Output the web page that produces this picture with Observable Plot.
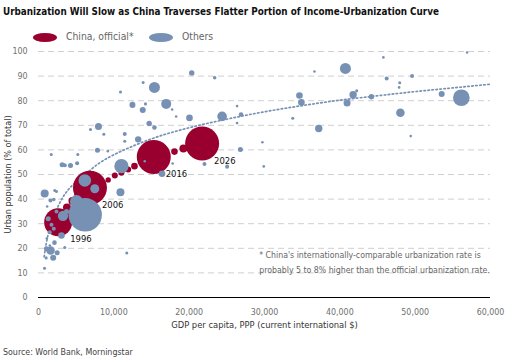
<!DOCTYPE html>
<html>
<head>
<meta charset="utf-8">
<script src="https://cdn.jsdelivr.net/npm/d3@7"></script>
<script src="https://cdn.jsdelivr.net/npm/@observablehq/plot@0.6"></script>
<style>
  html, body { margin: 0; padding: 0; background: #fff; }
  body { width: 513px; height: 361px; position: relative; overflow: hidden;
         font-family: "DejaVu Sans Condensed", "Liberation Sans", sans-serif; }
  .abs { position: absolute; white-space: nowrap; }
  #title { left: 3px; top: 6.8px; font-size: 9.8px; line-height: 9.8px; font-weight: bold; color: #111; }
  .lg-sw { position: absolute; width: 24px; height: 9px; border-radius: 50%; }
  .lg-tx { font-size: 10.3px; line-height: 10.3px; color: #666; }
  #source { left: 3px; top: 347.5px; font-size: 8.8px; line-height: 8.8px; color: #444; }
  #chart { position: absolute; left: 0; top: 45px; }
</style>
</head>
<body>
<div id="title" class="abs">Urbanization Will Slow as China Traverses Flatter Portion of Income-Urbanization Curve</div>
<div class="lg-sw" style="left:33px; top:32.5px; background:#99002f;"></div>
<div class="abs lg-tx" style="left:66px; top:31.3px;">China, official*</div>
<div class="lg-sw" style="left:149px; top:32.5px; background:#7791b5;"></div>
<div class="abs lg-tx" style="left:182px; top:31.3px;">Others</div>
<div id="chart"></div>
<div id="source" class="abs">Source: World Bank, Morningstar</div>
<script>
// ---- data ----
const xTicks = [0, 10000, 20000, 30000, 40000, 50000, 60000];
const yTicks = [0, 10, 20, 30, 40, 50, 60, 70, 80, 90, 100];

// China, official (GDP per capita PPP, urban %, population in millions, label)
const chinaGdp   = [2610, 3780, 4510, 5310, 6830, 9250, 10130, 11010, 11900, 12740, 15300, 18050, 19240, 21720];
const chinaUrban = [30.6, 36.6, 39.2, 41.5, 44.6, 47.8, 49.6, 50.7, 52.0, 53.4, 57.1, 59.3, 60.6, 62.6];
const chinaPop   = [930, 76, 76, 76, 1368, 34, 43, 43, 43, 52, 1368, 52, 76, 1368];
const chinaLabel = ["1996", "", "", "", "2006", "", "", "", "", "", "2016", "", "", "2026"];

// Others
const otherGdp = [1690,3140,3490,4250,5130,5220,6900,7960,8670,7830,9200,10880,12470,13890,14200,13840,15390,16950,17740,18270,14690,15390,11450,11450,13230,20340,23390,20040,24370,26360,26890,26360,26800,22030,25040,14100,16400,11010,17800,29900,29720,33750,34640,34900,56890,45780,40740,36630,46220,49590,47950,47870,41760,42240,40960,44190,53520,56130,48040,37200,49410,10880,820,2160,2390,1590,2030,1150,5040,6150,7470,3250,3050,1290,1725,2390,3720,2030,1500,1100,2120,3490,1600,1060,2480,1950,1020,800,11720,1500,6200];
const otherUrban = [58.1,54.0,53.8,53.7,54.6,58.1,68.3,69.5,66.4,59.9,59.5,83.5,78.3,87.4,78.7,76.2,85.4,78.7,76.4,73.6,70.7,69.1,66.5,63.5,64.3,91.3,89.3,73.0,73.6,77.8,74.4,70.9,60.2,54.3,53.2,55.4,50.3,53.4,54.5,53.3,63.1,72.9,82.1,79.3,99.6,97.6,93.1,91.9,89.0,90.0,87.3,85.4,82.4,84.0,79.1,81.6,82.7,81.2,75.1,68.7,65.6,42.8,42.3,43.5,43.1,39.4,39.8,37.0,39.0,47.6,44.2,33.2,25.2,32.0,29.6,35.0,35.0,27.9,26.5,24.0,22.3,20.3,19.1,19.8,18.2,16.2,16.1,11.9,18.1,21.1,33.6];
const otherPop = [11,30,19,30,19,11,11,58,11,30,8,11,43,11,11,43,143,118,8,8,35,25,19,11,48,35,15,52,110,8,25,8,30,19,19,8,52,240,8,8,8,11,52,52,8,8,143,8,19,19,11,8,65,11,58,35,43,330,87,65,8,76,76,11,11,19,15,8,200,186,96,125,52,30,19,19,30,19,19,8,25,11,85,30,30,43,11,11,11,8,1324];

// Trend line points
const trendGdp   = [750, 1000, 1500, 2000, 3000, 4000, 5000, 6000, 8000, 10000, 12500, 15000, 20000, 25000, 30000, 35000, 40000, 45000, 50000, 55000, 60000];
const trendUrban = [16.5, 21.5, 28, 32.5, 39.5, 44, 47, 49.5, 54.5, 58, 61.5, 64.5, 69, 72.5, 75.5, 78, 80.2, 82, 83.7, 85.2, 86.7];

const note = "* China's internationally-comparable urbanization rate is\nprobably 5 to 8% higher than the official urbanization rate.";
const xLabel = "GDP per capita, PPP (current international $)";
const yLabel = "Urban population (% of total)";

// ---- build tables ----
const china = chinaGdp.map((g, i) => ({gdp: g, urban: chinaUrban[i], pop: chinaPop[i], label: chinaLabel[i]}));
const others = otherGdp.map((g, i) => ({gdp: g, urban: otherUrban[i], pop: otherPop[i]}));
const trend = trendGdp.map((g, i) => ({gdp: g, urban: trendUrban[i]}));

const RED = "#99002f", BLUE = "#7791b5";
const FONT = "'DejaVu Sans Condensed', 'Liberation Sans', sans-serif";

const chart = Plot.plot({
  width: 513,
  height: 290,
  marginLeft: 38,
  marginRight: 23,
  marginTop: 6,
  marginBottom: 38,
  style: {fontFamily: FONT, fontSize: "8.8px", color: "#707070", background: "transparent", overflow: "visible"},
  x: {domain: [0, 60000], ticks: xTicks, tickSize: 0, tickPadding: 11, tickFormat: d3.format(","), label: null},
  y: {domain: [0, 100], ticks: yTicks, tickSize: 0, tickPadding: 11, label: null},
  r: {type: "sqrt", domain: [0, 1400], range: [0, 17.2]},
  marks: [
    Plot.ruleY(yTicks.filter(d => d > 0), {stroke: "#cfcfcf", strokeWidth: 1, strokeDasharray: "6,4"}),
    Plot.ruleY([0], {stroke: "#000", strokeWidth: 1.2}),
    Plot.line(trend, {x: "gdp", y: "urban", stroke: BLUE, strokeWidth: 1.7, strokeDasharray: "1.5,2.5", curve: "monotone-x"}),
    Plot.dot(china, {x: "gdp", y: "urban", r: "pop", fill: RED, stroke: "none"}),
    Plot.dot(others, {x: "gdp", y: "urban", r: "pop", fill: BLUE, stroke: "none"}),
    Plot.text(china.filter(d => d.label), {x: "gdp", y: "urban", text: "label", dx: 12, dy: 17, textAnchor: "start", fill: "#111", fontSize: 9.4}),
    Plot.text([note], {x: () => 29300, y: () => 14.8, text: d => d, textAnchor: "start", lineAnchor: "middle", lineHeight: 1.7, fill: "#666", fontSize: 8.7}),
    Plot.text([xLabel], {frameAnchor: "bottom", dy: 27.5, text: d => d, textAnchor: "middle", lineAnchor: "middle", fill: "#333", fontSize: 9.3}),
    Plot.text([yLabel], {frameAnchor: "left", dx: -30, rotate: -90, text: d => d, textAnchor: "middle", lineAnchor: "middle", fill: "#333", fontSize: 9})
  ]
});
document.getElementById("chart").appendChild(chart);
</script>
</body>
</html>
